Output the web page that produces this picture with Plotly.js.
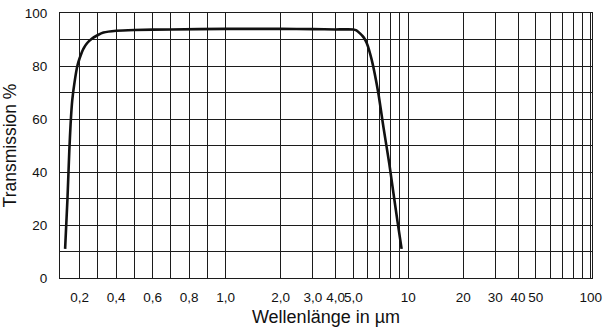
<!DOCTYPE html>
<html><head><meta charset="utf-8">
<script src="https://cdn.plot.ly/plotly-3.0.1.min.js"></script>
<style>html,body{margin:0;padding:0;background:#fff}#chart{width:604px;height:331px}</style>
</head><body><div id="chart"></div>
<script>
// Curve data: wavelength (µm) vs transmission (%)
const wavelength = [0.12, 0.133, 0.143, 0.150, 0.159, 0.172, 0.187, 0.20, 0.22, 0.24, 0.266, 0.30, 0.33, 0.40, 0.5, 0.7, 1.0, 2.0, 3.0, 4.0, 5.0, 5.2, 5.44, 5.7, 5.93, 6.31, 6.86, 7.31, 7.88, 8.3, 8.75, 9.2];
const transmission = [11, 30, 48, 58, 67, 74, 80, 83, 86.5, 88.6, 90.3, 91.7, 92.6, 93.3, 93.6, 93.8, 94, 94, 93.9, 93.8, 93.8, 93.4, 92.3, 90.8, 88.6, 82.3, 69.7, 57.1, 43, 32, 21, 11];

// Vertical grid lines (µm) and their labels
const gridWavelengths = [0.2, 0.3, 0.4, 0.5, 0.6, 0.7, 0.8, 0.9, 1.0, 2.0, 3.0, 4.0, 5.0, 6, 7, 8, 9, 10, 20, 30, 40, 50, 60, 70, 80, 90, 100];
const gridLabels = ['0,2', '', '0,4', '', '0,6', '', '0,8', '', '1,0', '2,0', '3,0', '4,0', '5,0', '', '', '', '', '10', '20', '30', '40', '50', '', '', '', '', '100'];

// Horizontal grid lines (%) and labels
const yTickVals = [0, 10, 20, 30, 40, 50, 60, 70, 80, 90, 100];
const yTickText = ['0', '', '20', '', '40', '', '60', '', '80', '', '100'];

// Axis transform of the original chart: linear below 1 µm, logarithmic above
function pos(w) { return w < 1 ? (w - 1) : Math.log10(w); }

const font = 'Liberation Sans, Arial, sans-serif';

const trace = {
  x: wavelength.map(pos),
  y: transmission,
  mode: 'lines',
  line: {color: '#111', width: 2.6, shape: 'spline', smoothing: 0.4},
  hoverinfo: 'skip'
};

const layout = {
  width: 604, height: 331,
  margin: {l: 60, r: 12, t: 13, b: 53},
  paper_bgcolor: '#fff', plot_bgcolor: '#fff',
  showlegend: false,
  font: {family: font, color: '#111', size: 13},
  xaxis: {
    range: [-0.908, 2.007],
    tickmode: 'array',
    tickvals: gridWavelengths.map(pos),
    ticktext: gridLabels,
    tickangle: 0,
    ticks: '',
    showgrid: true, gridcolor: '#1c1c1c', gridwidth: 1,
    zeroline: false,
    showline: true, mirror: true, linecolor: '#1c1c1c', linewidth: 1,
    tickfont: {size: 13.5, family: font, color: '#111'},
    ticklabelstandoff: 7,
    ticklabeloverflow: 'allow',
    title: {text: 'Wellenlänge in µm', font: {size: 18, family: font, color: '#111'}, standoff: 6}
  },
  yaxis: {
    range: [0, 100],
    tickmode: 'array',
    tickvals: yTickVals,
    ticktext: yTickText,
    ticks: '',
    showgrid: true, gridcolor: '#1c1c1c', gridwidth: 1,
    zeroline: false,
    showline: true, mirror: true, linecolor: '#1c1c1c', linewidth: 1,
    tickfont: {size: 13.5, family: font, color: '#111'},
    ticklabelstandoff: 9,
    title: {text: 'Transmission %', font: {size: 17.5, family: font, color: '#111'}, standoff: 4}
  }
};

Plotly.newPlot('chart', [trace], layout, {displayModeBar: false, staticPlot: true});
</script>
</body></html>
